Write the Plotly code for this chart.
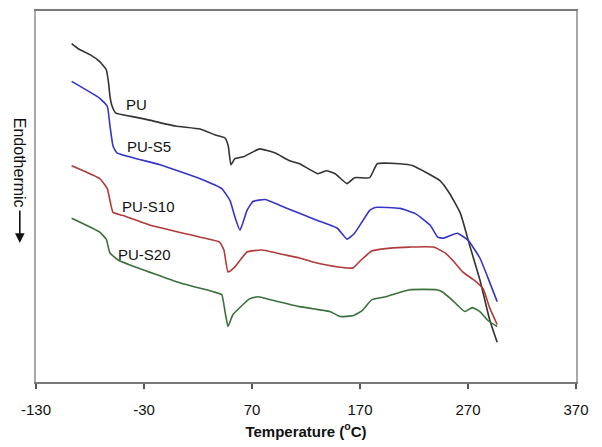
import plotly.graph_objects as go

# Temperature (°C) and relative heat flow (a.u.)
pu_t = [-97, -91, -80, -71, -65, -63, -61.5, -59.5, -56, -43, -29, -1, 22, 36, 45, 48, 50.5, 54, 62, 77, 91, 105, 114, 131, 139, 147, 158, 165, 179, 186, 207, 219, 244, 253, 263, 272, 281, 290, 297]
pu_py = [42, 47, 53, 60, 68, 80, 95, 105, 112, 115, 118, 125, 128, 134, 137, 145, 164, 158, 156, 148, 152, 160, 163, 173, 170, 173, 183, 177, 177, 163, 163, 165, 180, 193, 213, 247, 280, 320, 343]

s5_t = [-97, -71, -64, -61.5, -58.7, -55, -15, 22, 42, 49.6, 54.3, 58.9, 65.4, 70.9, 82, 96, 114, 130, 149, 158, 165, 179, 184, 207, 221, 235, 242, 247, 260, 270, 281, 288.5, 297]
s5_py = [80, 97, 105, 125, 145, 152, 164, 178, 188, 200, 217, 230, 210, 201, 199, 205, 213, 220, 228, 239, 233, 210, 207, 208, 213, 225, 237, 238, 233, 240, 258, 278, 302]

s10_t = [-97, -71, -64, -61.5, -58.7, -50, -24, 22, 40, 44, 47.8, 53.3, 65.4, 79, 101, 114, 126.5, 150, 163.5, 170, 181, 198, 216, 238, 249, 258, 265, 276.5, 284, 290, 297]
s10_py = [165, 178, 188, 200, 212, 215, 225, 237, 242, 250, 272, 268, 252, 250, 255, 258, 262, 267, 268, 261, 251, 248, 247, 247, 253, 263, 272, 281, 289, 308, 325]

s20_t = [-97, -71, -65, -61.5, -54, -43, 3, 34, 42, 45, 47.8, 52.4, 68, 75.6, 87, 114, 142, 151.5, 164, 172, 181, 194, 216, 241, 246, 255, 267, 274, 281, 288.5, 297]
s20_py = [218, 232, 239, 253, 260, 265, 283, 292, 295, 312, 327, 315, 299, 297, 300, 307, 312, 317, 316, 311, 300, 297, 290, 290, 292, 300, 312, 308, 312, 321, 327]

names = ["PU", "PU-S5", "PU-S10", "PU-S20"]
colors = ["#333333", "#3535c8", "#b23a3a", "#3a703a"]
x_ticks = [-130, -30, 70, 170, 270, 370]

def to_au(vals):
    return [(383 - v) / 10 for v in vals]

series = [(pu_t, pu_py), (s5_t, s5_py), (s10_t, s10_py), (s20_t, s20_py)]

fig = go.Figure()
for (t, py), n, c in zip(series, names, colors):
    fig.add_trace(go.Scatter(x=t, y=to_au(py), mode="lines", name=n,
                             line=dict(color=c, width=1.6, shape="spline", smoothing=0.4),
                             showlegend=False))

label_pos = [(-37.4, 28.0), (-25.4, 23.7), (-26.3, 17.7), (-29.1, 12.9)]
for n, (lx, ly) in zip(names, label_pos):
    fig.add_annotation(x=lx, y=ly, text=n, showarrow=False, xanchor="center",
                       font=dict(family="Liberation Sans, Arial", size=15, color="#111111"))

fig.add_annotation(xref="paper", yref="paper", x=-0.029, y=0.59, text="Endothermic",
                   textangle=90, showarrow=False, xanchor="center", yanchor="middle",
                   font=dict(family="Liberation Sans, Arial", size=16, color="#111111"))
fig.add_annotation(xref="paper", yref="paper", x=-0.030, y=0.375, ax=0, ay=-34,
                   text="", showarrow=True, arrowhead=2, arrowsize=1.2, arrowwidth=1.6,
                   arrowcolor="#111111")

fig.update_layout(
    width=602, height=447,
    margin=dict(l=36, r=26, t=9, b=64),
    paper_bgcolor="white", plot_bgcolor="white",
    font=dict(family="Liberation Sans, Arial", size=15, color="#111111"),
    xaxis=dict(range=[-130, 370], tickvals=x_ticks, ticktext=[str(v) for v in x_ticks],
               showgrid=False, zeroline=False, showline=True, linecolor="#7a7a7a", linewidth=2,
               mirror=True, ticks="outside", ticklen=5, tickwidth=1.5, tickcolor="#555555",
               ticklabelstandoff=8,
               title=dict(text="<b>Temperature (<sup>o</sup>C)</b>", standoff=9,
                          font=dict(size=15, color="#111111"))),
    yaxis=dict(range=[0, 37.4], showticklabels=False, showgrid=False, zeroline=False,
               showline=True, linecolor="#a8a8a8", linewidth=2, mirror=True, ticks=""),
)

fig.write_html("out.html")
